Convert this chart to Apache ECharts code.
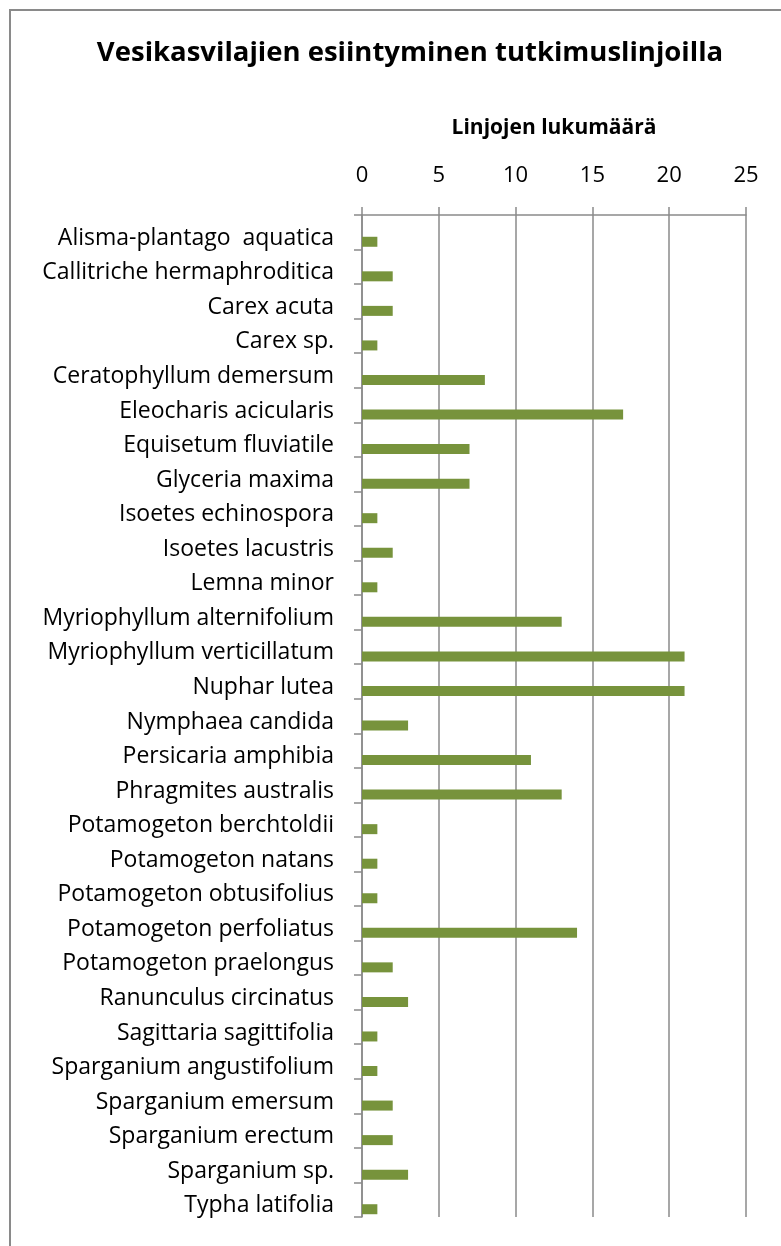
<!DOCTYPE html>
<html>
<head>
<meta charset="utf-8">
<script src="https://cdn.jsdelivr.net/npm/echarts@6/dist/echarts.min.js"></script>
<style>
  html, body { margin: 0; padding: 0; background: #fff; }
  #chart { width: 781px; height: 1246px; }
</style>
</head>
<body>
<div id="chart"></div>
<script>
// lajit (kategoriat)
var lajit = [
  'Alisma-plantago  aquatica', 'Callitriche hermaphroditica', 'Carex acuta', 'Carex sp.',
  'Ceratophyllum demersum', 'Eleocharis acicularis', 'Equisetum fluviatile', 'Glyceria maxima',
  'Isoetes echinospora', 'Isoetes lacustris', 'Lemna minor', 'Myriophyllum alternifolium',
  'Myriophyllum verticillatum', 'Nuphar lutea', 'Nymphaea candida', 'Persicaria amphibia',
  'Phragmites australis', 'Potamogeton berchtoldii', 'Potamogeton natans', 'Potamogeton obtusifolius',
  'Potamogeton perfoliatus', 'Potamogeton praelongus', 'Ranunculus circinatus', 'Sagittaria sagittifolia',
  'Sparganium angustifolium', 'Sparganium emersum', 'Sparganium erectum', 'Sparganium sp.',
  'Typha latifolia'
];
// linjojen lukumäärä
var linjat = [1, 2, 2, 1, 8, 17, 7, 7, 1, 2, 1, 13, 21, 21, 3, 11, 13, 1, 1, 1, 14, 2, 3, 1, 1, 2, 2, 3, 1];
var tyhja = lajit.map(function () { return null; });
var akseli = { min: 0, max: 25, interval: 5 };

var font = 'Open Sans';
var chart = echarts.init(document.getElementById('chart'));
chart.setOption({
  backgroundColor: '#fff',
  animation: false,
  textStyle: { fontFamily: font },
  title: {
    text: 'Vesikasvilajien esiintyminen tutkimuslinjoilla',
    left: 405,
    top: 34,
    textAlign: 'center',
    textStyle: { fontFamily: font, fontSize: 27.5, fontWeight: 'bold', color: '#000' }
  },
  graphic: [{
    type: 'rect',
    shape: { x: 10, y: 10, width: 900, height: 1400 },
    style: { fill: 'none', stroke: '#8a8a8a', lineWidth: 2 },
    silent: true
  }],
  grid: { left: 362, right: 35, top: 215, bottom: 29, containLabel: false },
  xAxis: {
    type: 'value',
    position: 'top',
    min: akseli.min,
    max: akseli.max,
    interval: akseli.interval,
    name: 'Linjojen lukumäärä',
    nameLocation: 'middle',
    nameGap: 76,
    nameTextStyle: { fontFamily: font, fontSize: 21, fontWeight: 'bold', color: '#000' },
    axisLine: { show: true, lineStyle: { color: '#8a8a8a', width: 1.5 } },
    axisTick: { show: true, length: 8, lineStyle: { color: '#8a8a8a', width: 1.5 } },
    axisLabel: { margin: 28, fontSize: 22, color: '#000', fontFamily: font },
    splitLine: { show: true, lineStyle: { color: '#8a8a8a', width: 1.5 } }
  },
  yAxis: {
    type: 'category',
    data: lajit,
    inverse: true,
    axisLine: { show: true, lineStyle: { color: '#8a8a8a', width: 1.5 } },
    axisTick: { show: true, length: 8, lineStyle: { color: '#8a8a8a', width: 1.5 } },
    axisLabel: {
      margin: 28, fontSize: 23, color: '#000', fontFamily: font,
      verticalAlign: 'top', lineHeight: 12
    }
  },
  series: [
    {
      type: 'bar',
      data: tyhja,
      barWidth: 10,
      barGap: '90%',
      silent: true
    },
    {
      type: 'bar',
      data: linjat,
      barWidth: 10,
      itemStyle: { color: '#77933c' }
    }
  ]
});
</script>
</body>
</html>
